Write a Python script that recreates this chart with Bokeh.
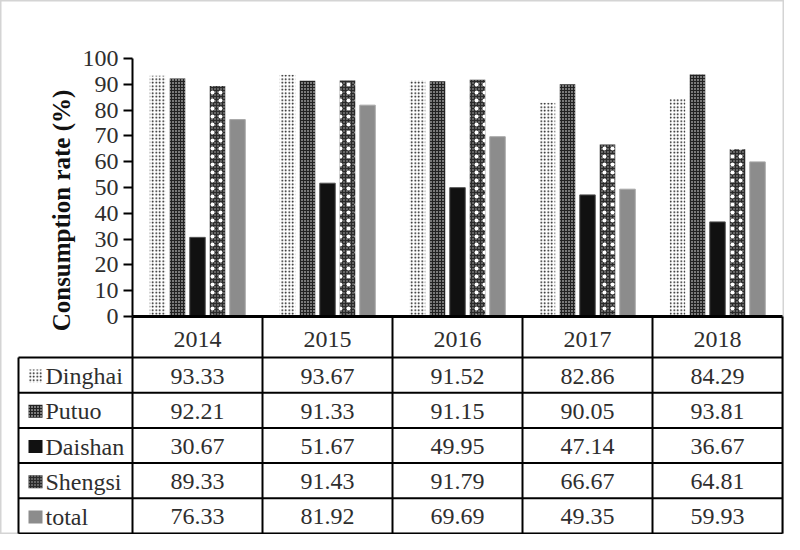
import math
from bokeh.plotting import figure
from bokeh.models import Range1d, LinearAxis, FixedTicker
from bokeh.core.properties import value
from bokeh.embed import file_html
from bokeh.resources import INLINE

# ---------------- data ----------------
years = ["2014", "2015", "2016", "2017", "2018"]
series = ["Dinghai", "Putuo", "Daishan", "Shengsi", "total"]
dinghai = [93.33, 93.67, 91.52, 82.86, 84.29]
putuo = [92.21, 91.33, 91.15, 90.05, 93.81]
daishan = [30.67, 51.67, 49.95, 47.14, 36.67]
shengsi = [89.33, 91.43, 91.79, 66.67, 64.81]
total = [76.33, 81.92, 69.69, 49.35, 59.93]
y_ticks = [0, 10, 20, 30, 40, 50, 60, 70, 80, 90, 100]
y_title = "Consumption rate (%)"

values = [dinghai, putuo, daishan, shengsi, total]

# ---------------- layout (pixels in the canvas) ----------------
W, H = 784, 534
AX_PX = 132          # y-axis / first table column border
RIGHT_PX = 782       # right border of table
LEFT_PX = 18         # left border of label column
Y0_PX = 316          # value 0
Y100_PX = 58         # value 100
HEADER_H = 41
ROW_H = 35.2
COL = (RIGHT_PX - AX_PX) / len(years)
K = (Y0_PX - Y100_PX) / 100.0

def X(px):
    return (px - AX_PX) / COL

def Y(py):
    return (Y0_PX - py) / K

FONT = "Liberation Serif"
TXT = "#2e2e2e"

p = figure(width=W, height=H, output_backend="svg", toolbar_location=None,
           x_range=Range1d(X(0), X(W)), y_range=Range1d(Y(H), Y(0)),
           x_axis_location=None, y_axis_location=None, min_border=0)
p.grid.visible = False
p.outline_line_color = "#d4d4d4"
p.outline_line_width = 2
p.background_fill_color = "white"
p.border_fill_color = "white"

# ---------------- bars ----------------
STEP = 20.0 / COL
BW = 15.5 / COL
styles = [
    dict(fill_color="white", line_color=None, hatch_pattern="dot", hatch_color="black",
         hatch_scale=3.5, hatch_weight=2.5),
    dict(fill_color="#222222", line_color=None, hatch_pattern="dot", hatch_color="white",
         hatch_scale=3, hatch_weight=1),
    dict(fill_color="#111111", line_color="#555555", line_width=1),
    dict(fill_color="#2a2a2a", line_color=None, hatch_pattern="dot", hatch_color="#bbbbbb",
         hatch_scale=3, hatch_weight=1),
    dict(fill_color="#8c8c8c", line_color="#a8a8a8", line_width=1),
]
for j, vals in enumerate(values):
    xs = [i + 0.5 + (j - 2) * STEP for i in range(len(years))]
    p.vbar(x=xs, top=vals, bottom=0, width=BW, **styles[j])
    if j == 3:
        p.vbar(x=xs, top=vals, bottom=0, width=BW, fill_alpha=0, line_color=None,
               hatch_pattern="dot", hatch_color="white", hatch_scale=8, hatch_weight=1)

# ---------------- y axis ----------------
ax = LinearAxis(fixed_location=0, bounds=(0, 100), ticker=FixedTicker(ticks=y_ticks))
ax.major_label_text_font = FONT
ax.major_label_text_font_size = "24px"
ax.major_label_text_color = TXT
ax.major_tick_out = 9
ax.major_tick_in = 0
ax.minor_tick_out = 0
ax.minor_tick_in = 0
ax.axis_line_width = 2
ax.major_tick_line_width = 2
ax.major_label_standoff = 5
p.add_layout(ax, "left")

p.text(x=[X(61)], y=[Y(210)], text=[y_title], angle=math.pi / 2,
       text_font=value(FONT), text_font_size="25px", text_font_style="bold",
       text_color="#111111", text_align="center", text_baseline="middle")

# ---------------- table ----------------
top_px = Y0_PX
hdr_px = Y0_PX + HEADER_H
row_bounds_px = [hdr_px + k * ROW_H for k in range(len(series) + 1)]
bottom_px = row_bounds_px[-1]

# horizontal lines
hx0, hx1, hy = [], [], []
for b in row_bounds_px:
    hx0.append(X(LEFT_PX)); hx1.append(X(RIGHT_PX)); hy.append(Y(b))
p.segment(x0=hx0, y0=hy, x1=hx1, y1=hy, line_color="black", line_width=2)
p.segment(x0=[X(AX_PX)], y0=[Y(top_px)], x1=[X(RIGHT_PX)], y1=[Y(top_px)],
          line_color="black", line_width=3)
# vertical lines
vx = [X(AX_PX + i * COL) for i in range(len(years) + 1)]
p.segment(x0=vx, y0=[Y(top_px)] * len(vx), x1=vx, y1=[Y(bottom_px)] * len(vx),
          line_color="black", line_width=2)
p.segment(x0=[X(LEFT_PX)], y0=[Y(hdr_px)], x1=[X(LEFT_PX)], y1=[Y(bottom_px)],
          line_color="black", line_width=2)

# header
p.text(x=[i + 0.5 for i in range(len(years))], y=[Y((top_px + hdr_px) / 2 + 2)] * len(years),
       text=years, text_font=value(FONT), text_font_size="24px", text_color=TXT,
       text_align="center", text_baseline="middle")

# cells
cx, cy, ct = [], [], []
for j, vals in enumerate(values):
    yc = Y((row_bounds_px[j] + row_bounds_px[j + 1]) / 2 + 1)
    for i, v in enumerate(vals):
        cx.append(i + 0.5); cy.append(yc); ct.append(f"{v:.2f}")
p.text(x=cx, y=cy, text=ct, text_font=value(FONT), text_font_size="24px",
       text_color=TXT, text_align="center", text_baseline="middle")

# row labels with swatches
label_y = [Y((row_bounds_px[j] + row_bounds_px[j + 1]) / 2 + 1) for j in range(len(series))]
p.text(x=[X(45)] * len(series), y=label_y, text=series, text_font=value(FONT),
       text_font_size="24px", text_color=TXT, text_align="left", text_baseline="middle")
for j in range(len(series)):
    st = dict(styles[j])
    st.pop("line_width", None)
    st["line_color"] = None
    p.rect(x=[X(35)], y=[label_y[j]], width=14, height=13, width_units="screen",
           height_units="screen", **st)

open("out.html", "w").write(file_html(p, INLINE))
